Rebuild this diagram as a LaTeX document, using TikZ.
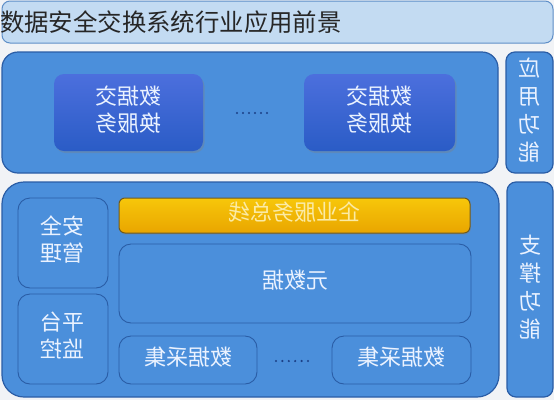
\documentclass[tikz,border=0pt]{standalone}
\usepackage{fontspec}
\usepackage{graphicx}
\setmainfont{Noto Sans CJK SC}
\usetikzlibrary{shadows}
\definecolor{bgc}{HTML}{F1F3F6}
\definecolor{titlefill}{HTML}{C3DBF2}
\definecolor{titleline}{HTML}{5F8FC8}
\definecolor{panelfill}{HTML}{4B8FDB}
\definecolor{panelline}{HTML}{2A5DA6}
\definecolor{innertop}{HTML}{4C6FDD}
\definecolor{innerbot}{HTML}{2A5CC6}
\definecolor{yeltop}{HTML}{F7C70A}
\definecolor{yelbot}{HTML}{E9A500}
\definecolor{yelline}{HTML}{6E5A20}
\definecolor{txtlight}{HTML}{EAF2FF}
\definecolor{txtyel}{HTML}{FBEBA6}
\definecolor{dotc}{HTML}{1B3F86}
\newcommand{\mtext}[1]{\reflectbox{\begin{tabular}{@{}c@{}}#1\end{tabular}}}
\tikzset{
  boxbase/.style={inner sep=0pt, outer sep=0pt, rectangle},
  panel/.style={boxbase, draw=panelline, line width=1.2pt, fill=panelfill, rounded corners=16pt},
  sidepanel/.style={boxbase, draw=panelline, line width=1.2pt, fill=panelfill, rounded corners=9pt,
     text=txtlight, font=\fontsize{22}{28}\selectfont},
  servicebox/.style={boxbase, rounded corners=10pt, top color=innertop, bottom color=innerbot,
     drop shadow={opacity=0.35, shadow xshift=1.5pt, shadow yshift=-2pt},
     text=txtlight, font=\fontsize{22}{27}\selectfont},
  subbox/.style={boxbase, draw=panelline, line width=0.9pt, fill=panelfill, rounded corners=12pt,
     text=txtlight, font=\fontsize{22}{27}\selectfont},
  busbox/.style={boxbase, draw=yelline, line width=1pt, rounded corners=6pt,
     top color=yeltop, bottom color=yelbot,
     drop shadow={opacity=0.35, shadow xshift=1pt, shadow yshift=-1.5pt},
     text=txtyel, font=\fontsize{22}{27}\selectfont},
  dotmark/.style={circle, fill=dotc, inner sep=0pt, minimum size=2.4pt},
}
\begin{document}
\begin{tikzpicture}[x=1pt,y=-1pt]
\fill[bgc] (0,0) rectangle (554,400);
\useasboundingbox (0,0) rectangle (554,400);

% title bar
\node[boxbase, draw=titleline, line width=1pt, fill=titlefill, rounded corners=8pt,
      minimum width=551pt, minimum height=42pt] (titlebar) at (277.5,22) {};
\node[anchor=west, inner sep=0pt, text=black!85, font=\fontsize{24.4}{28}\selectfont] (title) at (0,22)
  {数据安全交换系统行业应用前景};

% upper panel
\node[panel, minimum width=496pt, minimum height=121pt] (upper) at (250,112.5) {};
\node[sidepanel, minimum width=47pt, minimum height=121pt] (appfunc) at (529.5,112.5)
  {\mtext{应\\用\\功\\能}};
\node[servicebox, minimum width=149pt, minimum height=77pt] (svc1) at (128.5,112.5)
  {\mtext{数据交\\换服务}};
\node[servicebox, minimum width=151pt, minimum height=77pt] (svc2) at (379.5,112.5)
  {\mtext{数据交\\换服务}};
\foreach \i in {0,...,5} {
  \node[dotmark] (ud\i) at (237+6*\i,113) {};
}

% lower panel
\node[panel, minimum width=497pt, minimum height=215pt, rounded corners=22pt] (lower) at (250.5,289.5) {};
\node[sidepanel, minimum width=46pt, minimum height=215pt] (supfunc) at (530,289.5)
  {\mtext{支\\撑\\功\\能}};
\node[busbox, minimum width=351pt, minimum height=35pt] (esb) at (294.5,215.5)
  {\mtext{企业服务总线}};
\node[subbox, minimum width=352pt, minimum height=79pt] (meta) at (295,283.5)
  {\mtext{元数据}};
\node[subbox, minimum width=138pt, minimum height=48pt] (col1) at (188,360)
  {\mtext{数据采集}};
\node[subbox, minimum width=139pt, minimum height=48pt] (col2) at (401.5,360)
  {\mtext{数据采集}};
\foreach \i in {0,...,5} {
  \node[dotmark] (ld\i) at (276+6.4*\i,361) {};
}
\node[subbox, minimum width=90pt, minimum height=90pt] (secmgmt) at (63,243)
  {\mtext{安全\\管理}};
\node[subbox, minimum width=90pt, minimum height=90pt] (platmon) at (63,339)
  {\mtext{平台\\监控}};
\end{tikzpicture}
\end{document}
